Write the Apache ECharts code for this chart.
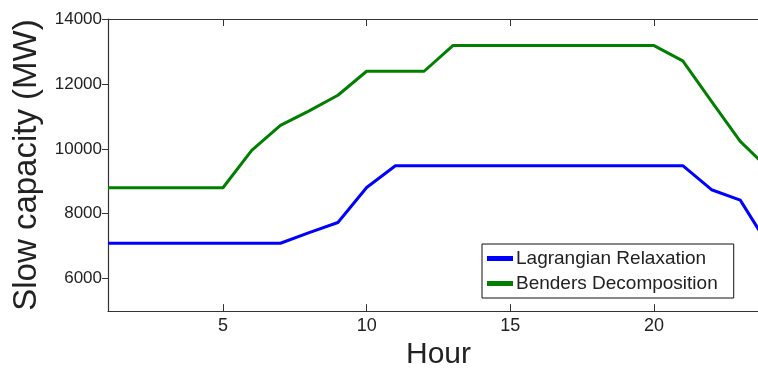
<!DOCTYPE html>
<html>
<head>
<meta charset="utf-8">
<script src="https://cdn.jsdelivr.net/npm/echarts@6/dist/echarts.min.js"></script>
<style>
html,body{margin:0;padding:0;background:#fff;overflow:hidden;width:758px;height:375px;}
#chart{width:769px;height:375px;}
</style>
</head>
<body>
<div id="chart"></div>
<script>
const hours = [1,2,3,4,5,6,7,8,9,10,11,12,13,14,15,16,17,18,19,20,21,22,23,24];
const lagrangian = [7090,7090,7090,7090,7090,7090,7090,7420,7730,8810,9480,9480,9480,9480,9480,9480,9480,9480,9480,9480,9480,8740,8420,7000];
const benders = [8800,8800,8800,8800,8800,9950,10720,11170,11650,12390,12390,12390,13180,13180,13180,13180,13180,13180,13180,13180,12710,11460,10230,9370];
const xTicks = [5,10,15,20];
const yTicks = [6000,8000,10000,12000,14000];
const seriesNames = ['Lagrangian Relaxation','Benders Decomposition'];

const pairs = vals => hours.map((h,i)=>[h, vals[i]]);
const font = 'Liberation Sans, Arial, Helvetica, sans-serif';
const axisCol = '#333';

const chart = echarts.init(document.getElementById('chart'), null, {renderer:'canvas'});
chart.setOption({
  animation:false,
  backgroundColor:'#fff',
  grid:{left:108, top:19, bottom:51, right:0},
  legend:{
    data:seriesNames,
    orient:'vertical',
    left:482, top:244,
    backgroundColor:'#fff',
    borderColor:'#111', borderWidth:1, borderRadius:0,
    padding:[4,16,4,5],
    itemGap:4,
    icon:'rect',
    itemWidth:26, itemHeight:5,
    textStyle:{fontFamily:font, fontSize:19, color:'#222', lineHeight:21, padding:[0,0,0,-2]}
  },
  xAxis:[{
    type:'value', min:1, max:24, position:'bottom',
    name:'Hour', nameLocation:'middle', nameGap:20,
    nameTextStyle:{fontFamily:font, fontSize:30, color:'#222'},
    axisLine:{show:true, lineStyle:{color:axisCol, width:1.2}},
    axisTick:{show:true, inside:true, length:7, customValues:xTicks, lineStyle:{color:axisCol}},
    axisLabel:{customValues:xTicks, fontFamily:font, fontSize:18, color:'#222', margin:6},
    splitLine:{show:false}
  },{
    type:'value', min:1, max:24, position:'top',
    axisLine:{show:true, lineStyle:{color:axisCol, width:1.2}},
    axisTick:{show:true, inside:true, length:7, customValues:xTicks, lineStyle:{color:axisCol}},
    axisLabel:{show:false},
    splitLine:{show:false}
  }],
  yAxis:{
    type:'value', min:5000, max:14000,
    name:'Slow capacity (MW)', nameLocation:'middle', nameGap:65, nameRotate:90,
    nameTextStyle:{fontFamily:font, fontSize:33, color:'#222'},
    axisLine:{show:true, lineStyle:{color:axisCol, width:1.2}},
    axisTick:{show:true, inside:false, length:6, customValues:yTicks, lineStyle:{color:axisCol}},
    axisLabel:{customValues:yTicks, formatter:v=>String(v), fontFamily:font, fontSize:17, color:'#222', margin:6},
    splitLine:{show:false}
  },
  series:[
    {name:seriesNames[0], type:'line', data:pairs(lagrangian), symbol:'none', lineStyle:{color:'#0000ff', width:3}, itemStyle:{color:'#0000ff'}},
    {name:seriesNames[1], type:'line', data:pairs(benders), symbol:'none', lineStyle:{color:'#007f00', width:3}, itemStyle:{color:'#007f00'}}
  ]
});
</script>
</body>
</html>
